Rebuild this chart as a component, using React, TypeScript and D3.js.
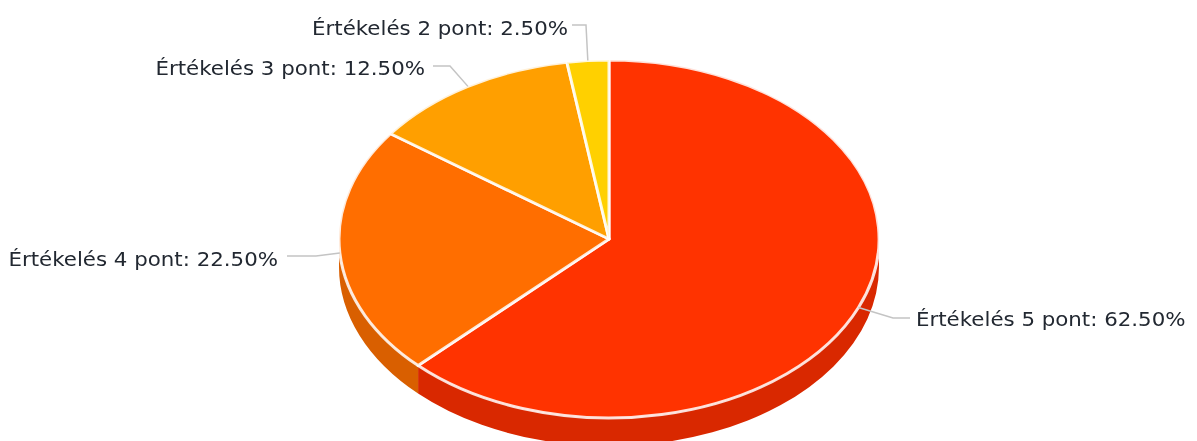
import React, { useEffect, useRef } from 'react';
import * as d3 from 'd3';

const categories = ['Értékelés 5 pont', 'Értékelés 4 pont', 'Értékelés 3 pont', 'Értékelés 2 pont'];
const shares = [62.5, 22.5, 12.5, 2.5];
const topColors = ['#ff3300', '#ff6e00', '#ff9f00', '#ffd000'];
const sideColors = ['#d92800', '#d95f00', '#d98700', '#d9b100'];

// where each label sits: text anchor point and elbow of the connector
const labelLayout = [
  { x: 916, y: 326, anchor: 'start', lineStart: 910, elbow: 893, lineY: 318 },
  { x: 278, y: 266, anchor: 'end', lineStart: 287, elbow: 316, lineY: 256 },
  { x: 425, y: 75, anchor: 'end', lineStart: 433, elbow: 450, lineY: 66 },
  { x: 568, y: 35, anchor: 'end', lineStart: 572, elbow: 586, lineY: 25 },
];

const WIDTH = 1197;
const HEIGHT = 441;
const cx = 609;
const cy = 239;
const rx = 270;
const ry = 179;
const depth = 28;
const textStretch = 1.067; // the reference glyphs are a little wider than they are tall

export default function App() {
  const svgRef = useRef<SVGSVGElement>(null);

  useEffect(() => {
    if (!svgRef.current) return;
    const svg = d3.select(svgRef.current);
    svg.selectAll('*').remove();

    const pie = d3.pie<number>().sort(null).value(d => d);
    const slices = pie(shares);

    // angle is measured clockwise from the top, on the unit circle that gets squashed
    const px = (a: number) => rx * Math.sin(a);
    const py = (a: number) => -ry * Math.cos(a);

    const g = svg.append('g').attr('transform', `translate(${cx},${cy})`);

    // side wall, only the front half of the rim shows
    slices.forEach((s, i) => {
      const a0 = Math.max(s.startAngle, Math.PI / 2);
      const a1 = Math.min(s.endAngle, (3 * Math.PI) / 2);
      if (a0 >= a1) return;
      const large = a1 - a0 > Math.PI ? 1 : 0;
      const d =
        `M${px(a0)},${py(a0)}` +
        `A${rx},${ry} 0 ${large} 1 ${px(a1)},${py(a1)}` +
        `L${px(a1)},${py(a1) + depth}` +
        `A${rx},${ry} 0 ${large} 0 ${px(a0)},${py(a0) + depth}Z`;
      g.append('path').attr('d', d).attr('fill', sideColors[i]);
    });

    const arc = d3.arc<d3.PieArcDatum<number>>().innerRadius(0).outerRadius(1);

    g.append('g')
      .attr('transform', `scale(${rx},${ry})`)
      .selectAll('path')
      .data(slices)
      .join('path')
      .attr('d', arc)
      .attr('fill', (_, i) => topColors[i])
      .attr('stroke', '#ffffff')
      .attr('stroke-opacity', 0.85)
      .attr('stroke-width', 3)
      .attr('stroke-linejoin', 'round')
      .attr('vector-effect', 'non-scaling-stroke');

    // connectors run from the label to the middle of the slice's rim
    slices.forEach((s, i) => {
      const l = labelLayout[i];
      const mid = (s.startAngle + s.endAngle) / 2;
      const pts: [number, number][] = [
        [l.lineStart - cx, l.lineY - cy],
        [l.elbow - cx, l.lineY - cy],
        [px(mid), py(mid)],
      ];
      g.append('path')
        .attr('d', d3.line()(pts))
        .attr('fill', 'none')
        .attr('stroke', '#c4c4c4')
        .attr('stroke-width', 1.5);
    });

    svg.selectAll('text.label')
      .data(slices)
      .join('text')
      .attr('class', 'label')
      .attr('transform', (_, i) => `translate(${labelLayout[i].x},${labelLayout[i].y}) scale(${textStretch},1)`)
      .attr('text-anchor', (_, i) => labelLayout[i].anchor)
      .attr('font-family', '"DejaVu Sans", sans-serif')
      .attr('font-size', 20)
      .attr('fill', '#222831')
      .text((d, i) => `${categories[i]}: ${d.value.toFixed(2)}%`);
  }, []);

  return (
    <svg
      ref={svgRef}
      width={WIDTH}
      height={HEIGHT}
      style={{ position: 'fixed', left: 0, top: 0, display: 'block', background: '#fff', filter: 'blur(0.55px)' }}
    />
  );
}
